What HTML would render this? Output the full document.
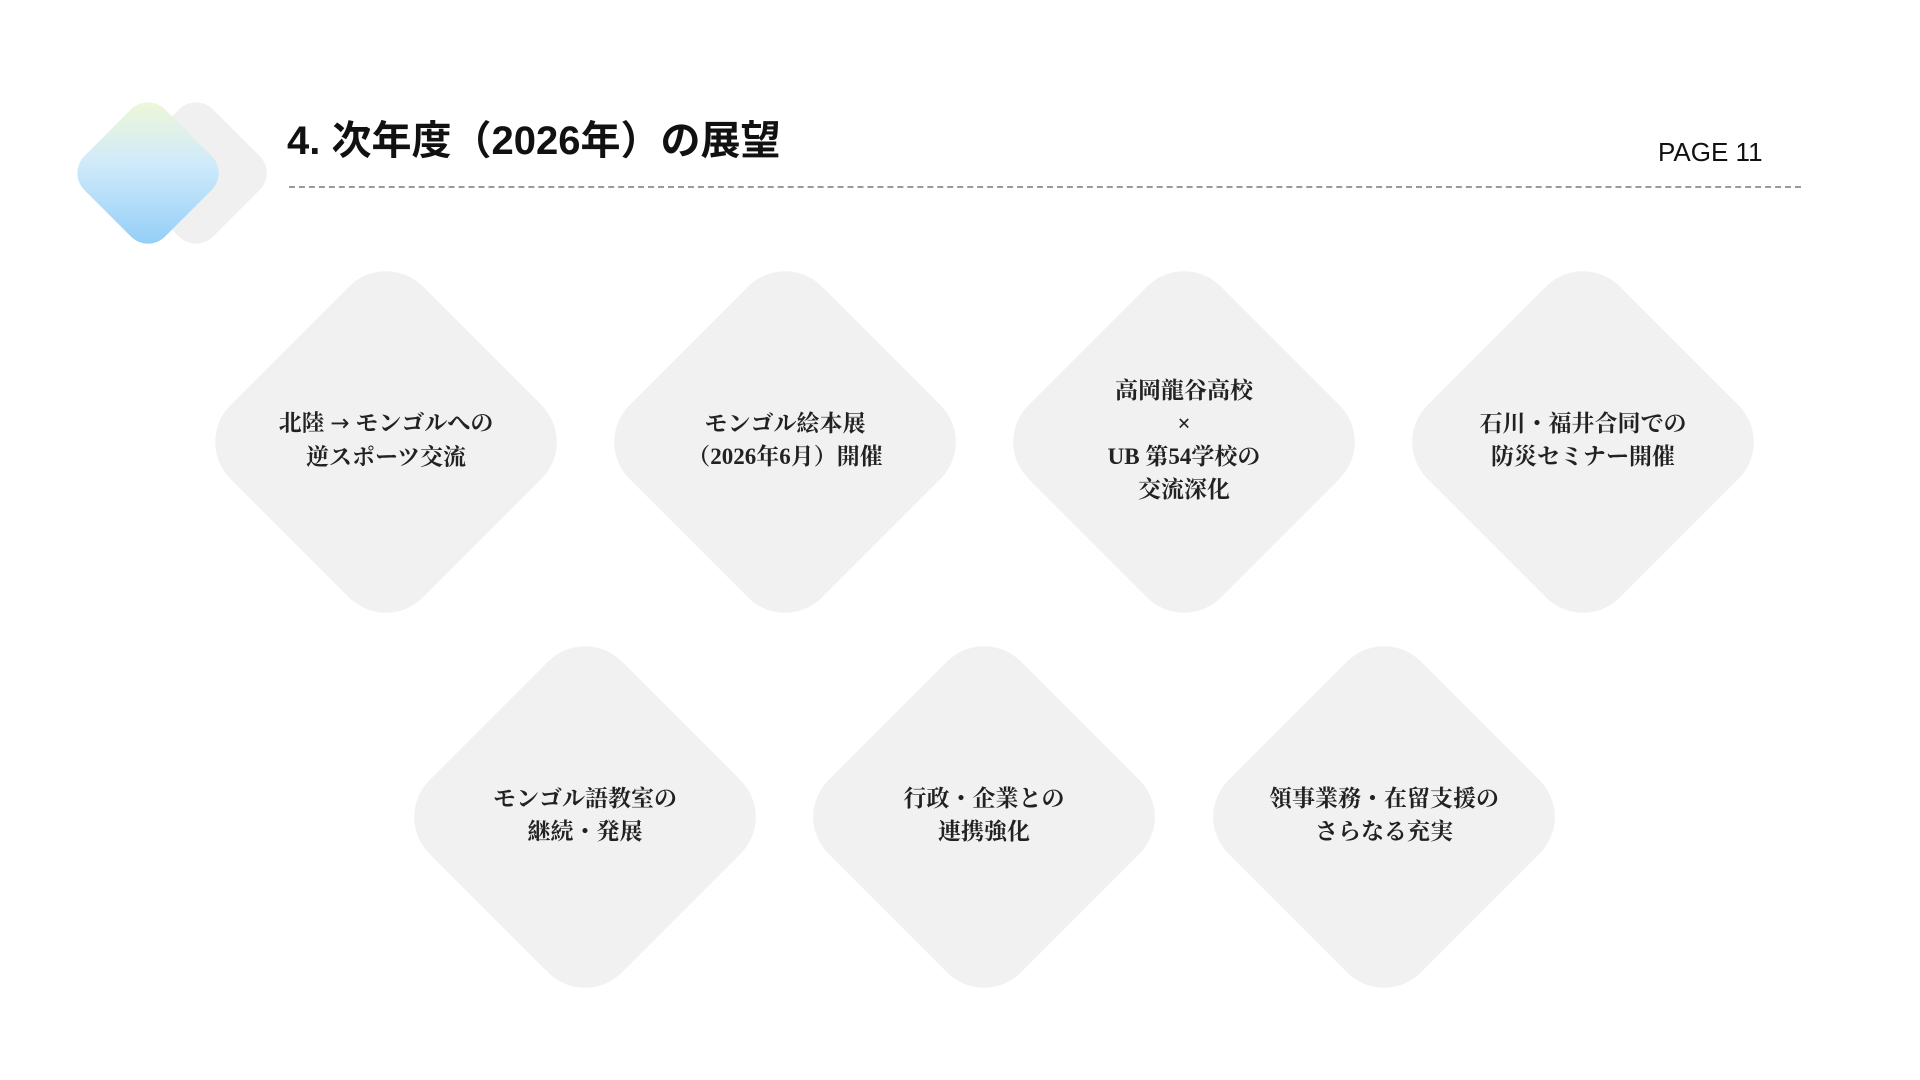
<!DOCTYPE html>
<html><head><meta charset="utf-8">
<style>
html,body{margin:0;padding:0;}
body{width:1920px;height:1080px;background:#fff;position:relative;overflow:hidden;}
.lg{position:absolute;width:114px;height:114px;border-radius:24px;transform:rotate(45deg);}
.title{position:absolute;left:287px;top:116px;font:bold 40px "Liberation Sans","Noto Sans CJK JP",sans-serif;color:#111;white-space:nowrap;line-height:50px;}
.page{position:absolute;left:1658px;top:137px;font:26px "Liberation Sans",sans-serif;color:#111;}
.dash{position:absolute;left:289px;top:186px;width:1512px;border-top:2px dashed #9a9a9a;}
.d{position:absolute;width:272px;height:272px;background:#f1f1f1;border-radius:52px;transform:rotate(45deg);}
.t{position:absolute;width:360px;text-align:center;font:bold 23px/33px "Liberation Serif","Noto Serif CJK SC",serif;color:#222;transform:translate(-50%,-50%);}
.ar{font-family:"DejaVu Sans",sans-serif;font-weight:normal;}
</style></head><body>
<div class="lg" style="left:139px;top:116px;background:#f0f0f0;"></div>
<div class="lg" style="left:91px;top:116px;background:linear-gradient(135deg,#f2f9d2 0%,#cfeafb 45%,#8ccbf6 100%);"></div>
<div class="title">4. 次年度（2026年）の展望</div>
<div class="page">PAGE 11</div>
<div class="dash"></div>

<div class="d" style="left:250px;top:306px"></div><div class="t" style="left:386px;top:440px">北陸 <span class="ar">→</span> モンゴルへの<br>逆スポーツ交流</div>
<div class="d" style="left:649px;top:306px"></div><div class="t" style="left:785px;top:440px">モンゴル絵本展<br>（2026年6月）開催</div>
<div class="d" style="left:1048px;top:306px"></div><div class="t" style="left:1184px;top:440px">高岡龍谷高校<br>×<br>UB 第54学校の<br>交流深化</div>
<div class="d" style="left:1447px;top:306px"></div><div class="t" style="left:1583px;top:440px">石川・福井合同での<br>防災セミナー開催</div>

<div class="d" style="left:449px;top:681px"></div><div class="t" style="left:585px;top:815px">モンゴル語教室の<br>継続・発展</div>
<div class="d" style="left:848px;top:681px"></div><div class="t" style="left:984px;top:815px">行政・企業との<br>連携強化</div>
<div class="d" style="left:1248px;top:681px"></div><div class="t" style="left:1384px;top:815px">領事業務・在留支援の<br>さらなる充実</div>
</body></html>
